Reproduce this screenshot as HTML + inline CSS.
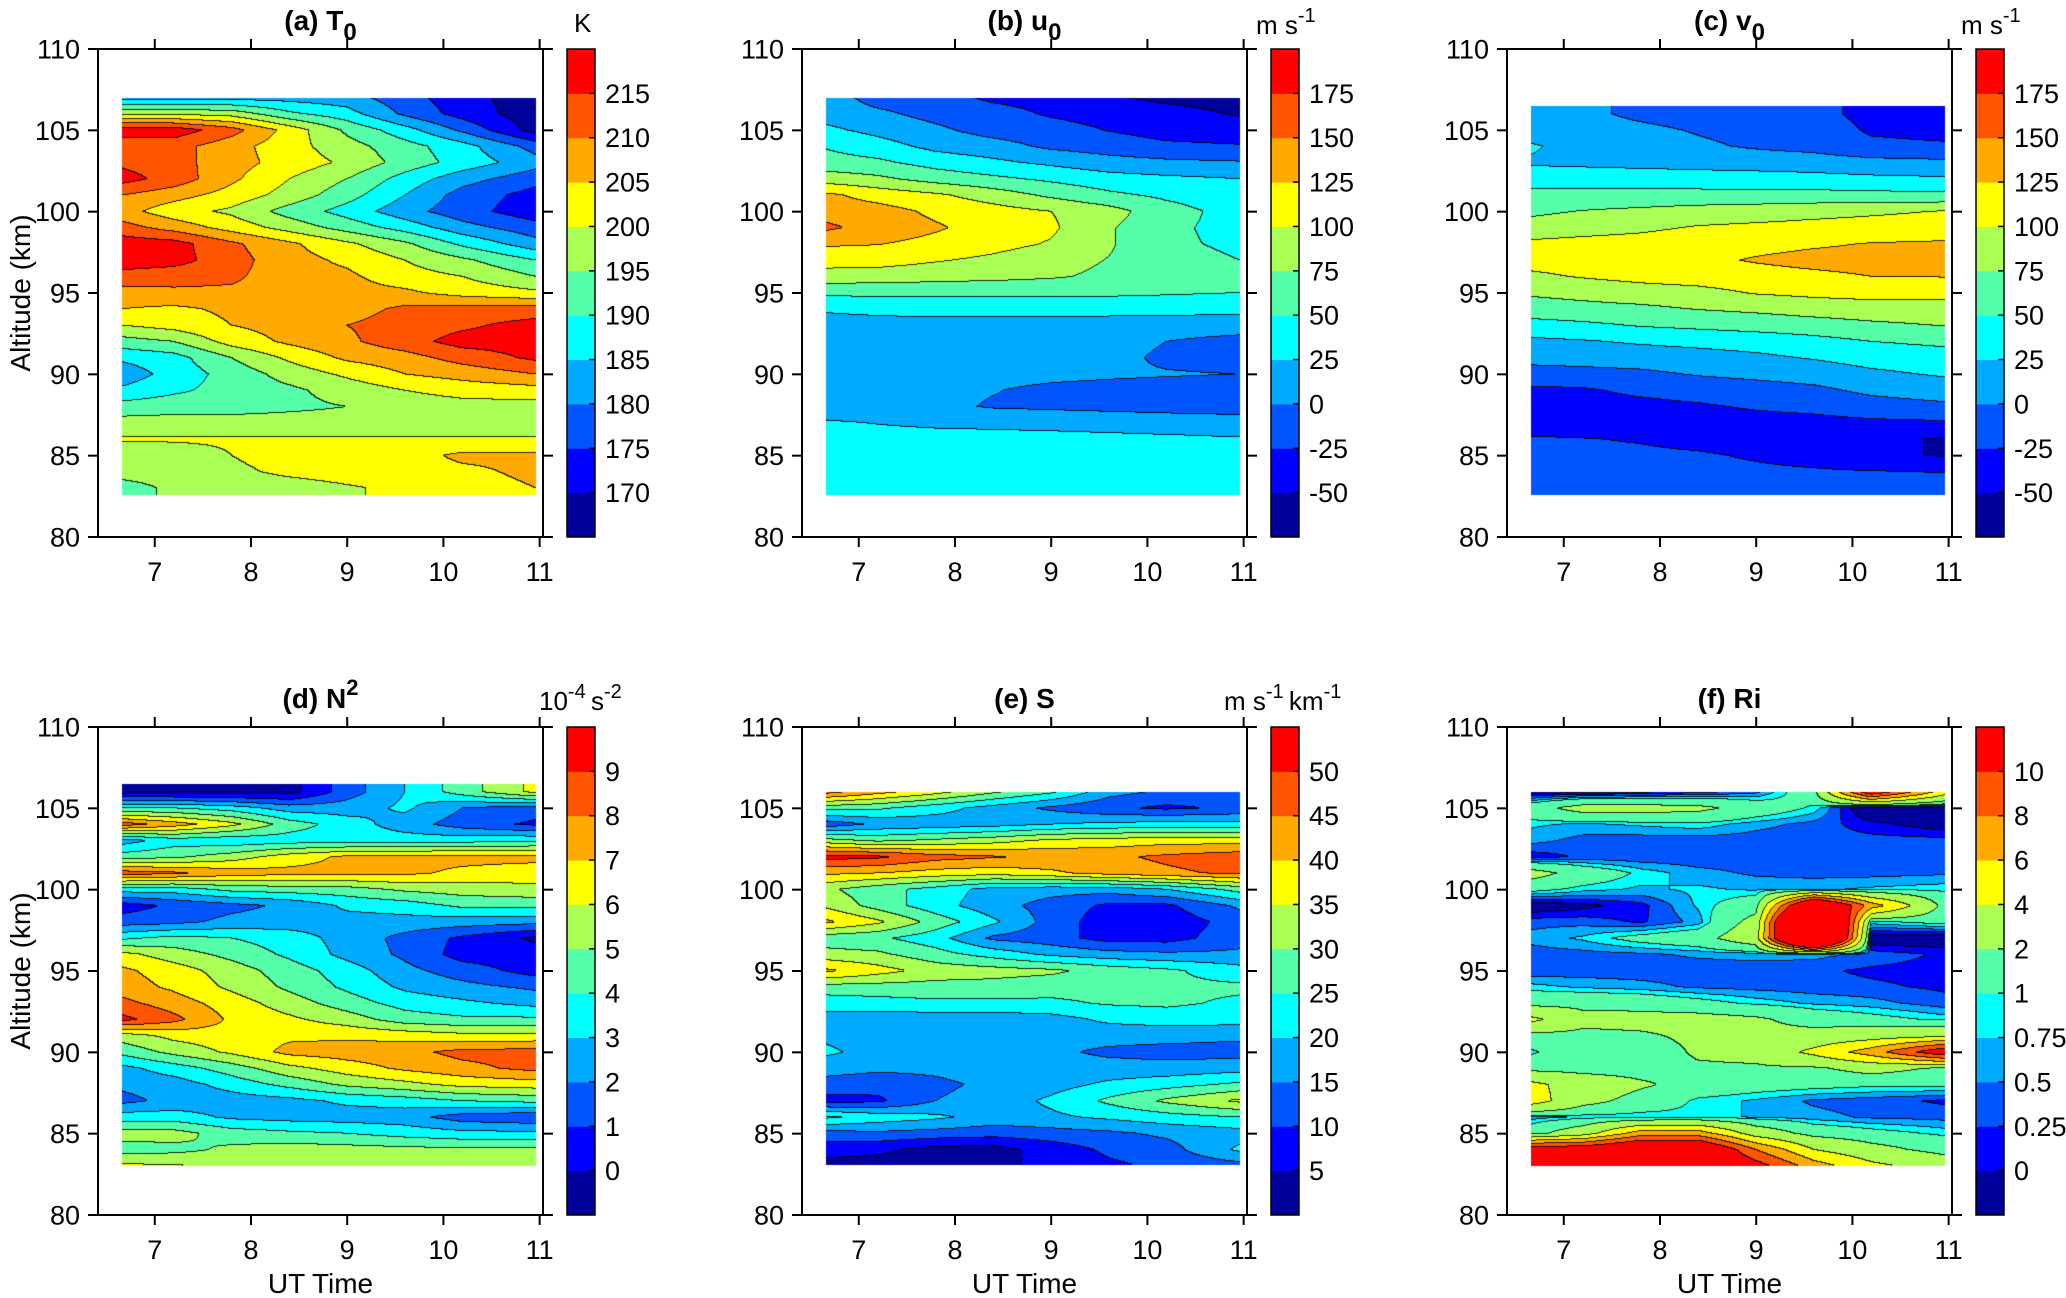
<!DOCTYPE html>
<html><head><meta charset="utf-8">
<style>
html,body{margin:0;padding:0;background:#fff;}
#wrap{position:relative;width:2066px;height:1298px;overflow:hidden;}
canvas,svg{position:absolute;left:0;top:0;}
text{font-family:"Liberation Sans",Arial,sans-serif;fill:#000;}
</style></head>
<body>
<div id="wrap">
<canvas id="cv" width="2066" height="1298"></canvas>
<svg id="sv" width="2066" height="1298" xmlns="http://www.w3.org/2000/svg"></svg>
</div>
<script>
// ---- data ----
const times = [6.66,7.2,7.8,8.4,9.0,9.6,10.2,10.96];
const alts = [107,106,105,104,103,102,101,100,99,98,97,96,95,94,93,92,91,90,89,88,87,86,85,84,83];
const xTicks = [7,8,9,10,11];
const yTicks = [80,85,90,95,100,105,110];

const tempT0 = [
[183,183,183,183,182,177,172,167],
[199,199,198,191,187,179,173,167],
[218,218,212,203,194,187,179,168],
[212,212,207,202,197,192,187,178],
[214,212,207,203,199,193,188,182],
[217,213,206,200,195,188,182,177],
[210,207,203,198,192,185,178,173],
[207,202,199,193,188,182,177,172],
[212,208,203,198,193,188,182,177],
[218,217,211,206,201,196,189,182],
[218,217,212,207,204,200,196,190],
[213,212,211,207,206,202,200,195],
[208,209,209,207,207,206,203,201],
[205,204,206,207,208,211,212,212],
[200,202,205,207,210,212,214,217],
[193,195,202,206,209,213,217,217],
[186,188,195,201,206,208,212,216],
[182,187,192,197,201,205,207,210],
[186,189,192,194,197,200,202,203],
[192,193,193,194,195,197,198,198],
[197,197,197,197,197,197,197,197],
[200.5,200.5,200.5,200.5,200.5,200.5,200.5,200.5],
[197,198,200,202,203,203,206,206],
[197,197,199,201,202,203,204,206],
[193,196,197,198,199.5,201,203,205]];

const windU0 = [
[12,-10,-15,-30,-35,-48,-55,-60],
[15,5,-8,-15,-28,-35,-42,-52],
[30,18,5,-10,-15,-26,-35,-40],
[48,35,18,10,-5,-12,-20,-23],
[60,55,40,30,20,10,5,2],
[88,80,65,55,45,35,30,25],
[130,115,104,88,70,55,45,35],
[140,135,120,110,100,85,60,40],
[155,140,128,115,104,78,55,42],
[128,126,118,108,98,78,55,45],
[110,110,102,95,85,74,60,50],
[90,88,85,82,78,70,60,53],
[55,56,55,55,55,55,53,50],
[28,32,35,35,34,33,32,30],
[15,15,15,15,15,15,15,15],
[12,12,12,12,12,10,0,-10],
[10,10,10,10,10,8,-5,-12],
[8,8,8,8,6,4,2,0],
[8,7,5,1,-5,-8,-10,-12],
[10,8,5,-2,-4,-6,-8,-10],
[28,24,20,18,16,14,12,10],
[35,35,35,35,34,32,30,27],
[37,37,37,37,37,37,37,37],
[37,37,37,37,37,37,37,37],
[37,37,37,37,37,37,37,37]];

const windV0 = [
[10,5,-5,-10,-12,-18,-32,-35],
[10,5,-5,-10,-12,-18,-32,-35],
[12,10,5,-2,-8,-12,-28,-32],
[28,15,12,4,-3,-8,-20,-22],
[22,20,18,16,14,12,8,5],
[38,38,37,36,35,33,30,28],
[58,58,58,58,58,58,57,55],
[70,76,80,85,88,92,96,101],
[85,90,95,102,105,108,110,112],
[105,108,110,115,118,122,126,128],
[110,112,114,120,127,132,134,135],
[95,102,108,112,116,120,125,126],
[78,82,88,92,102,106,108,106],
[65,68,70,76,80,86,90,92],
[40,45,52,56,60,64,70,76],
[20,23,28,32,36,42,50,55],
[8,10,12,15,20,27,35,40],
[-10,-8,-5,2,6,10,20,28],
[-30,-28,-20,-15,-10,-5,5,12],
[-35,-34,-32,-28,-22,-18,-10,-5],
[-40,-40,-40,-38,-35,-33,-30,-28],
[-22,-24,-27,-33,-38,-42,-45,-52],
[-20,-18,-20,-22,-28,-35,-45,-52],
[-15,-15,-15,-17,-20,-22,-24,-26],
[-12,-12,-12,-12,-12,-12,-12,-12]];

const buoyN2 = [
[-0.5,-0.5,-0.5,-0.4,1.5,3,4.5,6.3],
[-0.5,-0.5,-0.5,-0.4,1.5,3,4.5,6.3],
[4,4,3.5,2.5,2.5,3.2,2,1.5],
[8.5,7.5,6.3,4.5,3.5,2.5,1.5,0.8],
[2.5,3.5,3.3,3.5,3.5,3.5,3.6,3.8],
[4.5,4.8,5.5,6.5,7.2,7.3,7.3,7.3],
[8.5,8.2,7.5,7.3,7.3,7.2,6.8,6.5],
[3.5,3.5,4.3,4.5,4.6,5.2,5.5,5.7],
[0.5,1.2,1.7,2.2,3.2,3.5,4.2,4.3],
[1.5,1.7,2.3,2.5,2.6,2.6,2.5,2.3],
[3.8,4.3,4.0,3.5,2.6,1.7,0.8,-0.2],
[6.3,5.5,4.7,3.8,2.7,1.8,0.6,0.5],
[7.2,6.5,5.5,4.5,3.5,2.3,1.5,0.6],
[7.5,6.8,5.8,4.8,3.8,2.8,2.3,1.8],
[8.3,7.5,6.5,5.5,4.5,3.6,3.2,2.7],
[9.3,8.3,6.8,6.2,5.5,4.5,4.2,4.2],
[5.5,6.3,6.6,6.8,6.8,6.6,6.3,6.3],
[4.3,5.3,6.2,7.3,7.5,7.7,8.3,8.4],
[2.7,3.5,4.5,5.7,6.5,7.2,7.7,8.3],
[2.2,2.5,3.4,4.3,5.2,5.7,6.3,6.5],
[1.7,2.3,2.5,2.7,3.2,3.5,4.0,4.3],
[3.5,3.5,2.8,2.6,2.5,2.4,1.5,1.2],
[5.4,5.4,4.5,4.2,4.0,3.6,3.3,3.2],
[4.6,4.7,5.2,5.5,5.4,5.3,5.2,5.2],
[6.2,6.1,5.8,5.6,5.6,5.6,5.7,6.0]];

const shearS = [
[47,42,37,31,26,17,14,14],
[47,42,37,31,26,17,14,14],
[27,26,22,18,14,11,9,11],
[12,16,17,18,20,21,22,22],
[32,29,31,33,36,37,38,38],
[52,51,47,45.5,44,44,46,48],
[41,40,38,37,39,42,44,46],
[31,27,23,18,17,17,20,27],
[34,28,22,17,13,9,9,16],
[41,36,28,21,13,7,7,12],
[27,26,22,14,12,8,8,13],
[32,31,27,23,19,17,16,16],
[41,37,33,32,31,28,26,22],
[28,28,28,28,27,27,26,26],
[22,23,24,24,24,25.5,26,24],
[18,17,17,17,18,21,22,22],
[19,17,17,17,17,17,17,16],
[21,18,17,17,16,14,13,13],
[17,16,16,17,17,17,17,18],
[13,12,14,16,18,21,23,26],
[8,9,15,17,21,26,31,36],
[26,23,21,18,19,21,23,25],
[13,14,13,12,13,14,16,18],
[7,6,3,3,7,11,13,21],
[3,3,3,4,6,9,11,13]];

const richRi = [
[-0.2,-0.2,-0.1,0.1,0.4,1.5,12,5],
[-0.2,-0.2,-0.1,0.1,0.4,1.5,12,5],
[1.5,2.5,2.5,2.3,1.5,0.9,-0.5,-0.3],
[0.8,0.7,0.8,0.9,0.6,0.4,0.1,-0.2],
[0.6,0.4,0.35,0.35,0.35,0.35,0.35,0.35],
[0.1,0.3,0.3,0.3,0.35,0.35,0.35,0.35],
[2.5,1.5,0.9,0.6,0.45,0.4,0.4,0.45],
[1.2,0.85,0.7,0.8,0.7,0.7,0.8,0.9],
[-0.3,-0.1,0.15,0.8,1.5,16,7,1.5],
[0.4,0.4,0.2,0.6,2.5,25,0.9,1.2],
[0.6,0.8,1.2,1.5,3,25,-0.3,-0.3],
[0.35,0.4,0.45,0.55,0.6,0.6,0.4,0.2],
[0.3,0.35,0.35,0.35,0.35,0.3,0.2,0.15],
[0.85,0.7,0.6,0.45,0.4,0.35,0.3,0.2],
[1.5,1.6,1.5,1.2,0.9,0.7,0.6,0.35],
[4.5,2.5,2.5,2.5,2.2,1.5,1.2,0.9],
[1.5,1.6,1.8,2.3,2.3,2.5,3,3.5],
[0.9,1.5,1.2,2.2,2.5,4.5,7,12],
[1.5,1.5,1.5,1.8,1.8,1.8,2.5,1.8],
[4.5,3,2.2,1.5,1.3,1.2,1.1,1.1],
[5,2.5,1.5,0.9,0.7,0.45,0.35,0.2],
[0.6,0.8,0.8,0.9,0.7,0.6,0.45,0.4],
[1.5,3,7,7,3,1.5,1.2,0.9],
[12,12,14,14,8,4,2.5,1.5],
[12,12,14,14,11,7,4.5,3]];

const levelsT = [170,175,180,185,190,195,200,205,210,215];
const levelsUV = [-50,-25,0,25,50,75,100,125,150,175];
const levelsN2 = [0,1,2,3,4,5,6,7,8,9];
const levelsS = [5,10,15,20,25,30,35,40,45,50];
const levelsRi = [0,0.25,0.5,0.75,1,2,4,6,8,10];
const labelsRi = ["0","0.25","0.5","0.75","1","2","4","6","8","10"];

const colors = ['#00009A','#0000FF','#0055FF','#00AAFF','#00FFFF','#55FFAA','#AAFF55','#FFFF00','#FFAA00','#FF5500','#FF0000'];

const panels = [
 {name:'a', title:'(a) T', sub:'0', sup:null, grid:tempT0, lv:levelsT, lab:levelsT.map(String), top:107, bot:82.6, ox:0, oy:0, ylab:true, xlab:false},
 {name:'b', title:'(b) u', sub:'0', sup:null, grid:windU0, lv:levelsUV, lab:levelsUV.map(String), top:107, bot:82.6, ox:704, oy:0, ylab:false, xlab:false},
 {name:'c', title:'(c) v', sub:'0', sup:null, grid:windV0, lv:levelsUV, lab:levelsUV.map(String), top:106.5, bot:82.6, ox:1409, oy:0, ylab:false, xlab:false},
 {name:'d', title:'(d) N', sub:null, sup:'2', grid:buoyN2, lv:levelsN2, lab:levelsN2.map(String), top:106.5, bot:83, ox:0, oy:678, ylab:true, xlab:true},
 {name:'e', title:'(e) S', sub:null, sup:null, grid:shearS, lv:levelsS, lab:levelsS.map(String), top:106, bot:83.1, ox:704, oy:678, ylab:false, xlab:true},
 {name:'f', title:'(f) Ri', sub:null, sup:null, grid:richRi, lv:levelsRi, lab:labelsRi, top:106, bot:83, ox:1409, oy:678, ylab:false, xlab:true}
];

// ---- geometry ----
const BOX = {l:98, r:543, t:49, b:537};
const XLIM = [6.41, 11.035], YLIM = [80, 110];
const CB = {l:567, r:595};
function xs(p,t){ return p.ox + BOX.l + (t-XLIM[0])/(XLIM[1]-XLIM[0])*(BOX.r-BOX.l); }
function ys(p,h){ return p.oy + BOX.b - (h-YLIM[0])/(YLIM[1]-YLIM[0])*(BOX.b-BOX.t); }
function bandOf(v,lv){ let b=0; for(const l of lv){ if(v>=l) b++; } return b; }
function sample(grid,t,h){
  let ci=0; while(ci<times.length-2 && t>times[ci+1]) ci++;
  let fx=(t-times[ci])/(times[ci+1]-times[ci]); fx=Math.max(0,Math.min(1,fx));
  let ri=0; while(ri<alts.length-2 && h<alts[ri+1]) ri++;
  let fy=(alts[ri]-h)/(alts[ri]-alts[ri+1]); fy=Math.max(0,Math.min(1,fy));
  const a=grid[ri][ci], b=grid[ri][ci+1], c=grid[ri+1][ci], d=grid[ri+1][ci+1];
  return (a*(1-fx)+b*fx)*(1-fy)+(c*(1-fx)+d*fx)*fy;
}
function hex(c){ return [parseInt(c.substr(1,2),16),parseInt(c.substr(3,2),16),parseInt(c.substr(5,2),16)]; }
const rgb = colors.map(hex);

// ---- fills ----
const cv=document.getElementById('cv'); const ctx=cv.getContext('2d');
for(const p of panels){
  const x0=Math.round(xs(p,times[0])), x1=Math.round(xs(p,times[times.length-1]));
  const y0=Math.round(ys(p,p.top)), y1=Math.round(ys(p,p.bot));
  const w=x1-x0, h=y1-y0;
  const bands=new Int8Array(w*h);
  for(let j=0;j<h;j++){
    const alt = YLIM[0] + (p.oy+BOX.b-(y0+j+0.5))/(BOX.b-BOX.t)*(YLIM[1]-YLIM[0]);
    for(let i=0;i<w;i++){
      const t = XLIM[0] + (x0+i+0.5-p.ox-BOX.l)/(BOX.r-BOX.l)*(XLIM[1]-XLIM[0]);
      bands[j*w+i]=bandOf(sample(p.grid,t,alt),p.lv);
    }
  }
  const img=ctx.createImageData(w,h);
  for(let j=0;j<h;j++) for(let i=0;i<w;i++){
    const k=j*w+i; let c=rgb[bands[k]];
    let edge=(i<w-1 && bands[k]!==bands[k+1]) || (j<h-1 && bands[k]!==bands[k+w]);
    const o=k*4;
    if(edge){ img.data[o]=c[0]*0.15; img.data[o+1]=c[1]*0.15; img.data[o+2]=c[2]*0.15; }
    else { img.data[o]=c[0]; img.data[o+1]=c[1]; img.data[o+2]=c[2]; }
    img.data[o+3]=255;
  }
  ctx.putImageData(img,x0,y0);
}

// ---- axes / text ----
const NS='http://www.w3.org/2000/svg';
const sv=document.getElementById('sv');
function el(tag,attrs,parent){ const e=document.createElementNS(NS,tag); for(const k in attrs) e.setAttribute(k,attrs[k]); (parent||sv).appendChild(e); return e; }
function txt(s,x,y,size,anchor,weight,parent){ const e=el('text',{x:x,y:y,'font-size':size,'text-anchor':anchor||'start','font-weight':weight||'normal'},parent); e.textContent=s; return e; }

for(const p of panels){
  const g=el('g',{});
  
  
  const L=p.ox+BOX.l, R=p.ox+BOX.r, Tp=p.oy+BOX.t, B=p.oy+BOX.b;
  const frame=el('rect',{x:L,y:Tp,width:R-L,height:B-Tp,fill:'none',stroke:'#000','stroke-width':2},g);
  
  
  for(const v of yTicks){
    const y=ys(p,v);
    el('line',{x1:L-10,x2:L,y1:y,y2:y,stroke:'#000','stroke-width':2},g);
    el('line',{x1:R,x2:R+10,y1:y,y2:y,stroke:'#000','stroke-width':2},g);
    const t=txt(String(v),L-18,y+9.5,27,'end','normal',g);
    
    
  }
  for(const v of xTicks){
    const x=xs(p,v);
    el('line',{x1:x,x2:x,y1:B,y2:B+10,stroke:'#000','stroke-width':2},g);
    el('line',{x1:x,x2:x,y1:Tp-10,y2:Tp,stroke:'#000','stroke-width':2},g);
    const t=txt(String(v),x,B+44,27,'middle','normal',g);
    
    
  }
  const cx=(L+R)/2;
  const tt=el('text',{x:cx,y:p.oy+30,'font-size':28,'text-anchor':'middle','font-weight':'bold'},g);
  
  
  tt.appendChild(document.createTextNode(p.title));
  if(p.sub){ const s=el('tspan',{dy:10,'font-size':24},tt); s.textContent=p.sub; }
  if(p.sup){ const s=el('tspan',{dy:-13,'font-size':22},tt); s.textContent=p.sup; }
  const n=colors.length, bh=(B-Tp)/n;
  for(let i=0;i<n;i++){
    const r=el('rect',{x:p.ox+CB.l,y:B-(i+1)*bh,width:CB.r-CB.l,height:bh+0.5,fill:colors[i]},g);
    
    
  }
  el('rect',{x:p.ox+CB.l,y:Tp,width:CB.r-CB.l,height:B-Tp,fill:'none',stroke:'#000','stroke-width':1.5},g);
  for(let i=0;i<p.lab.length;i++){
    const y=B-(i+1)*bh;
    el('line',{x1:p.ox+CB.r-6,x2:p.ox+CB.r,y1:y,y2:y,stroke:'#000','stroke-width':1.5},g);
    const t=txt(p.lab[i],p.ox+CB.r+10,y+9.5,27,'start','normal',g);
    
    
  }
  if(p.ylab){
    const t=el('text',{x:0,y:0,'font-size':28,'text-anchor':'middle',transform:'translate(30,'+(p.oy+293)+') rotate(-90)'},g);
    t.textContent='Altitude (km)';
    
    
  }
  if(p.xlab){
    const t=txt('UT Time',cx,1293,28,'middle','normal',g);
    
    
  }
}
function unit(parts,x,y,name){
  const t=el('text',{x:x,y:y,'font-size':26});
  
  
  for(const [s,sup] of parts){
    const sp=el('tspan',sup?{dy:-12,'font-size':20}:{dy:0},t);
    sp.textContent=s;
    if(sup){ const back=el('tspan',{dy:12,'font-size':26},t); back.textContent='\u2009'; }
  }
  return t;
}
unit([['K',false]],574,32,'colorbar-unit-a');
unit([['m s',false],['-1',true]],704+552,34,'colorbar-unit-b');
unit([['m s',false],['-1',true]],1409+552,34,'colorbar-unit-c');
unit([['10',false],['-4',true],['s',false],['-2',true]],539,678+32,'colorbar-unit-d');
unit([['m s',false],['-1',true],['km',false],['-1',true]],704+520,678+32,'colorbar-unit-e');
</script>
</body></html>
